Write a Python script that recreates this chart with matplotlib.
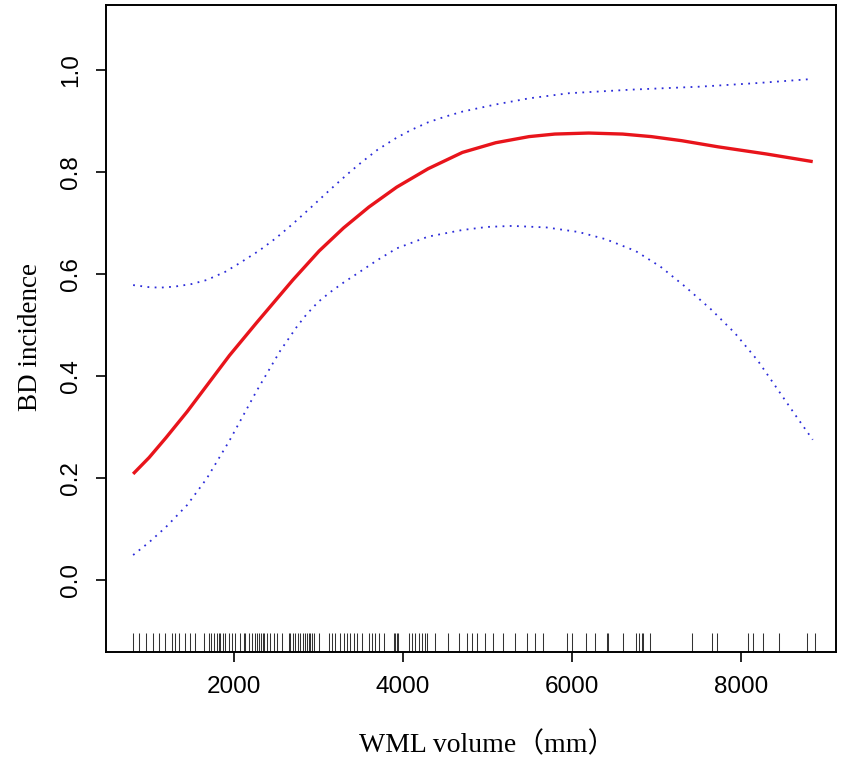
import matplotlib
matplotlib.use("Agg")
import matplotlib.pyplot as plt
import matplotlib.transforms as mtransforms

# Fitted curve and 95% CI
fit_x = [811, 1000, 1200, 1450, 1682, 1950, 2270, 2700, 3012, 3300, 3600, 3929,
         4300, 4706, 5100, 5494, 5800, 6200, 6600, 6941, 7300, 7729, 8300, 8850]
fit_y = [0.208, 0.240, 0.279, 0.330, 0.381, 0.440, 0.504, 0.588, 0.645, 0.690,
         0.731, 0.770, 0.806, 0.838, 0.857, 0.869, 0.874, 0.876, 0.874, 0.869,
         0.861, 0.849, 0.835, 0.820]

upper_x = [811, 1000, 1129, 1300, 1500, 1682, 1900, 2070, 2306, 2500, 2700, 2900,
           3141, 3350, 3500, 3700, 3929, 4100, 4300, 4500, 4706, 5100, 5494, 5965,
           6700, 7529, 8200, 8850]
upper_y = [0.578, 0.574, 0.573, 0.575, 0.580, 0.588, 0.604, 0.621, 0.646, 0.670,
           0.698, 0.728, 0.765, 0.796, 0.817, 0.843, 0.867, 0.882, 0.897, 0.908,
           0.918, 0.932, 0.944, 0.954, 0.961, 0.967, 0.974, 0.982]

lower_x = [811, 1000, 1200, 1450, 1682, 1950, 2270, 2550, 2750, 2859, 3000, 3141,
           3300, 3447, 3700, 3929, 4300, 4706, 5000, 5294, 5700, 6082, 6400, 6753,
           7050, 7341, 7650, 7929, 8200, 8400, 8650, 8850]
lower_y = [0.049, 0.074, 0.104, 0.147, 0.199, 0.273, 0.370, 0.449, 0.497, 0.520,
           0.545, 0.564, 0.583, 0.599, 0.627, 0.650, 0.673, 0.686, 0.692, 0.694,
           0.691, 0.682, 0.668, 0.645, 0.614, 0.575, 0.530, 0.484, 0.430, 0.382,
           0.322, 0.275]

# observed WML volumes (rug)
rug_x = [806, 885, 965, 1043, 1113, 1193, 1272, 1303, 1350, 1429, 1488, 1547,
         1645, 1713, 1736, 1764, 1804, 1823, 1843, 1870, 1902, 1941, 1981, 2020,
         2079, 2118, 2138, 2177, 2217, 2257, 2277, 2296, 2324, 2348, 2363, 2395,
         2434, 2473, 2513, 2572, 2650, 2670, 2702, 2729, 2757, 2788, 2820, 2848,
         2868, 2887, 2907, 2927, 2954, 3005, 3123, 3163, 3202, 3261, 3300, 3340,
         3379, 3418, 3459, 3518, 3596, 3636, 3675, 3714, 3773, 3891, 3911, 3931,
         3950, 4069, 4109, 4148, 4187, 4227, 4266, 4286, 4384, 4541, 4660, 4759,
         4818, 4877, 4975, 5073, 5184, 5330, 5468, 5566, 5664, 5941, 6000, 6169,
         6275, 6414, 6433, 6606, 6754, 6790, 6827, 6846, 6926, 7418, 7655, 7714,
         8087, 8139, 8265, 8454, 8778, 8876]

x_ticks = [2000, 4000, 6000, 8000]
y_ticks = [0.0, 0.2, 0.4, 0.6, 0.8, 1.0]

fig = plt.figure(figsize=(8.5, 7.63), dpi=100)
ax = fig.add_axes([0.1247, 0.1455, 0.8588, 0.848])

ax.plot(fit_x, fit_y, color="#e8141b", lw=2.4, solid_capstyle="butt",
        solid_joinstyle="round")
ax.plot(upper_x, upper_y, color="#2b2bd9", lw=1.3, ls=(0, (1, 3)))
ax.plot(lower_x, lower_y, color="#2b2bd9", lw=1.3, ls=(0, (1, 3)))

# rug along the bottom
trans = mtransforms.blended_transform_factory(ax.transData, ax.transAxes)
ax.vlines(rug_x, 0, 0.03, transform=trans, color="#333333", lw=0.75)

ax.set_xlim(490, 9125)
ax.set_ylim(-0.141, 1.127)
ax.set_xticks(x_ticks)
ax.set_xticklabels([str(v) for v in x_ticks])
ax.set_yticks(y_ticks)
ax.set_yticklabels([f"{v:.1f}" for v in y_ticks])

for s in ax.spines.values():
    s.set_linewidth(1.4)
ax.tick_params(length=7.5, width=1.2, pad=10, labelsize=17.5)
for lab in ax.get_xticklabels() + ax.get_yticklabels():
    lab.set_family("Liberation Sans")
for lab in ax.get_yticklabels():
    lab.set_rotation(90)
    lab.set_va("center")

serif = ["Liberation Serif", "Noto Sans CJK SC"]
ax.set_xlabel("WML volume（mm）", fontsize=20, family=serif)
ax.set_ylabel("BD incidence", fontsize=19.5, family=serif)
ax.xaxis.set_label_coords(0.522, -0.144)
ax.yaxis.set_label_coords(-0.104, 0.487)
ax.xaxis.label.set_va("center")
ax.yaxis.label.set_va("center")

fig.savefig("out.png", dpi=100)
